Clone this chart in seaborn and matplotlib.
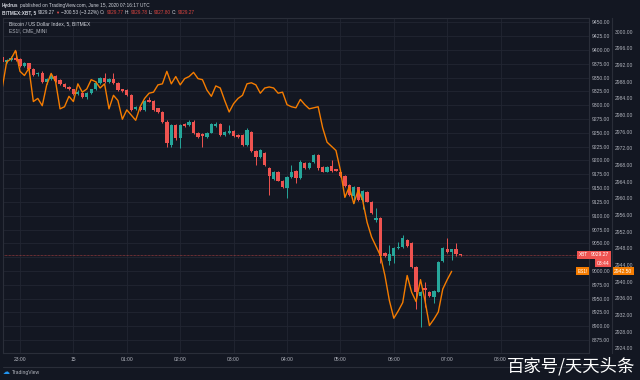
import numpy as np
import pandas as pd
import matplotlib
matplotlib.use("Agg")
import matplotlib.pyplot as plt
import matplotlib.dates as mdates
import seaborn as sns

# XBT/USD 5-minute bars, 22:40 -> 07:15 UTC
bar_open = [9387.2, 9378.2, 9380.9, 9385.4, 9382.7, 9370.9, 9375.5, 9365.5, 9355.6, 9358.8,
            9341.1, 9347.4, 9352.8, 9344.7, 9338.4, 9333.8, 9328.8, 9319.7, 9322.6, 9315.4,
            9322.6, 9328.8, 9340.7, 9348.7, 9341.1, 9347.4, 9340.2, 9328.4, 9327.5, 9318.4,
            9293.1, 9297.3, 9291.3, 9308.5, 9307.6, 9294.4, 9288.2, 9270.1, 9227.9, 9264.2,
            9240.1, 9266.0, 9264.2, 9270.1, 9249.1, 9247.9, 9241.9, 9250.2, 9262.9, 9265.4,
            9246.1, 9249.1, 9253.3, 9246.1, 9246.1, 9228.0, 9252.0, 9217.6, 9206.8, 9214.0,
            9186.9, 9166.4, 9179.1, 9162.8, 9150.7, 9170.6, 9180.9, 9167.7, 9194.8, 9187.2,
            9196.3, 9209.8, 9188.7, 9179.6, 9189.9, 9184.0, 9179.6, 9171.8, 9155.6, 9135.6,
            9151.4, 9128.4, 9143.4, 9125.3, 9092.2, 9095.8, 9031.9, 9018.5, 9027.0, 9041.0,
            9043.9, 9056.0, 9050.0, 9008.0, 8954.6, 8970.0, 8962.4, 8953.4, 8962.4, 9018.0,
            9039.2, 9034.8, 9039.2, 9029.77]
bar_high = [9390.8, 9382.7, 9389.0, 9398.1, 9385.4, 9377.3, 9376.4, 9367.3, 9360.1, 9361.0,
            9349.2, 9358.3, 9354.7, 9346.5, 9340.2, 9335.6, 9330.2, 9326.6, 9323.9, 9323.9,
            9330.2, 9342.9, 9351.0, 9358.8, 9349.2, 9358.8, 9342.0, 9330.2, 9329.3, 9320.3,
            9298.5, 9298.5, 9309.4, 9314.8, 9309.4, 9295.8, 9289.5, 9272.3, 9266.0, 9266.0,
            9266.0, 9267.8, 9272.3, 9272.3, 9250.6, 9249.7, 9250.6, 9266.9, 9270.1, 9266.9,
            9252.4, 9264.2, 9255.1, 9247.0, 9247.9, 9258.2, 9253.3, 9218.9, 9220.7, 9215.3,
            9188.1, 9180.0, 9180.0, 9164.6, 9171.8, 9191.8, 9182.7, 9200.8, 9196.3, 9196.3,
            9211.7, 9211.7, 9189.9, 9189.9, 9200.8, 9185.4, 9180.9, 9173.6, 9157.4, 9153.8,
            9152.8, 9146.5, 9144.7, 9126.6, 9113.9, 9098.2, 9033.4, 9047.0, 9043.3, 9052.9,
            9065.1, 9057.8, 9051.5, 9008.9, 8963.7, 8980.5, 8963.7, 8965.5, 9018.0, 9043.3,
            9059.1, 9040.6, 9050.6, 9029.78]
bar_low = [9375.5, 9376.4, 9380.0, 9379.1, 9369.1, 9369.1, 9363.7, 9352.8, 9353.7, 9339.3,
           9338.4, 9345.6, 9342.0, 9336.5, 9332.0, 9326.6, 9318.4, 9318.4, 9313.9, 9310.3,
           9320.3, 9326.6, 9338.4, 9339.3, 9340.2, 9338.4, 9325.7, 9323.9, 9316.6, 9289.5,
           9291.3, 9289.5, 9289.5, 9304.9, 9289.5, 9285.9, 9267.8, 9224.3, 9224.3, 9237.9,
           9223.1, 9260.5, 9262.3, 9247.0, 9241.5, 9224.9, 9240.6, 9248.8, 9261.4, 9244.2,
           9244.2, 9247.9, 9243.3, 9241.5, 9226.1, 9226.1, 9215.3, 9191.8, 9205.3, 9190.1,
           9137.4, 9164.6, 9161.9, 9150.7, 9131.5, 9169.1, 9159.2, 9166.4, 9185.4, 9185.4,
           9194.5, 9183.6, 9178.2, 9178.2, 9179.1, 9180.0, 9170.0, 9151.9, 9135.6, 9123.0,
           9126.6, 9112.1, 9123.9, 9103.1, 9088.6, 9014.4, 9025.2, 9010.8, 9014.4, 9039.7,
           9042.4, 9044.2, 9006.2, 8931.1, 8899.1, 8935.3, 8952.8, 8942.0, 8961.0, 9016.2,
           9031.6, 9019.8, 9027.9, 9027.80]
bar_close = [9378.2, 9380.9, 9385.4, 9380.9, 9370.9, 9375.5, 9365.5, 9354.7, 9358.8, 9341.1,
             9347.4, 9352.8, 9343.8, 9338.4, 9333.8, 9328.8, 9319.7, 9324.4, 9315.4, 9322.6,
             9328.8, 9340.7, 9348.7, 9341.1, 9347.4, 9340.2, 9327.5, 9325.7, 9318.4, 9291.3,
             9297.3, 9291.3, 9307.6, 9306.3, 9291.3, 9288.2, 9270.1, 9231.0, 9264.2, 9240.1,
             9264.2, 9262.9, 9270.1, 9249.1, 9243.0, 9244.2, 9249.1, 9265.4, 9265.4, 9246.1,
             9251.0, 9253.3, 9244.8, 9243.0, 9228.0, 9255.1, 9217.6, 9206.8, 9218.9, 9191.8,
             9172.4, 9178.5, 9163.3, 9152.5, 9170.6, 9179.1, 9167.7, 9196.3, 9187.2, 9194.8,
             9209.8, 9185.8, 9179.6, 9188.7, 9180.9, 9181.4, 9171.3, 9153.8, 9137.4, 9152.5,
             9128.4, 9145.2, 9125.3, 9104.3, 9095.8, 9027.0, 9027.0, 9030.7, 9042.1, 9043.9,
             9059.1, 9045.7, 9008.0, 8962.4, 8962.4, 8965.5, 8954.6, 8963.7, 9016.7, 9041.5,
             9033.4, 9039.2, 9029.8, 9029.27]

# ES1! (CME mini S&P) 5-minute closes, 22:40 -> 07:05
es_close = [2986.5, 2992.75, 2993.5, 2995.5, 2990.5, 2989.5, 2991.25, 2983.25, 2984.0, 2982.25,
            2987.25, 2990.0, 2988.0, 2981.5, 2982.0, 2984.5, 2983.25, 2987.5, 2985.5, 2986.25,
            2988.5, 2988.0, 2986.5, 2987.5, 2981.5, 2984.75, 2983.5, 2979.0, 2981.25, 2980.0,
            2978.75, 2982.0, 2984.0, 2985.25, 2985.5, 2987.25, 2987.5, 2990.5, 2987.5, 2989.25,
            2987.25, 2988.75, 2989.25, 2990.25, 2988.75, 2988.5, 2986.0, 2984.5, 2987.0, 2986.5,
            2983.5, 2980.75, 2982.75, 2984.0, 2984.75, 2987.5, 2987.75, 2987.25, 2985.25, 2986.5,
            2986.75, 2986.5, 2985.25, 2985.5, 2982.5, 2982.0, 2981.75, 2983.75, 2982.5, 2981.5,
            2981.75, 2982.0, 2977.0, 2973.5, 2972.5, 2971.5, 2966.75, 2960.25, 2962.75, 2958.75,
            2962.0, 2959.5, 2954.25, 2950.75, 2948.5, 2946.25, 2941.5, 2935.5, 2931.25, 2933.0,
            2935.0, 2941.5, 2937.5, 2935.25, 2940.5, 2935.5, 2929.5, 2931.0, 2932.75, 2938.25,
            2940.5, 2942.5]

hour_labels = ['23:00', '15', '01:00', '02:00', '03:00', '04:00', '05:00', '06:00', '07:00', '08:00']
btc_ticks = np.arange(8875, 9451, 25)
es_ticks = np.arange(2924, 3001, 4)

BG = '#131722'
GRID = '#222632'
TXT = '#b2b5be'
UP = '#26a69a'
DOWN = '#ef5350'
ES_COL = '#f57c00'

sns.set_theme(style='dark', rc={'axes.facecolor': BG, 'figure.facecolor': BG})
plt.rcParams['font.family'] = ['Liberation Sans', 'DejaVu Sans']

times = pd.date_range('2020-06-14 22:40', periods=len(bar_open), freq='5min')
df = pd.DataFrame({'time': mdates.date2num(times), 'open': bar_open, 'high': bar_high,
                   'low': bar_low, 'close': bar_close})
df['up'] = df['close'] >= df['open']
df['bottom'] = df[['open', 'close']].min(axis=1)
df['body'] = (df['close'] - df['open']).abs().clip(lower=1.3)
colors = np.where(df['up'], UP, DOWN)

es = pd.DataFrame({'time': df['time'][:len(es_close)], 'es': es_close})

fig = plt.figure(figsize=(6.4, 3.8), dpi=100)
ax = fig.add_axes([3 / 640, 27 / 380, 586 / 640, 335 / 380])
ax.set_facecolor(BG)

# candles
ax.vlines(df['time'], df['low'], df['high'], colors=colors, lw=0.7, zorder=2)
ax.bar(df['time'], df['body'], bottom=df['bottom'], width=3.7 / 1440, color=colors,
       linewidth=0, zorder=3)
ax.axhline(bar_close[-1], color=DOWN, lw=0.5, ls=(0, (1, 1)), alpha=0.8, zorder=1)

t0 = mdates.date2num(pd.Timestamp('2020-06-14 23:00'))
ax.set_xlim(t0 - 19.1 / 1440, t0 + 639.3 / 1440)
ax.set_ylim(8851.5, 9457.8)
hours = mdates.date2num(pd.date_range('2020-06-14 23:00', periods=len(hour_labels), freq='h'))
ax.set_xticks(hours)
ax.set_xticklabels(hour_labels)
ax.tick_params(axis='x', length=0, pad=3.2, labelsize=3.6, labelcolor=TXT)
ax.grid(True, color=GRID, lw=0.6)
for s in ax.spines.values():
    s.set_color('#2a2e39')
    s.set_linewidth(0.8)

# ES on its own scale
ax2 = ax.twinx()
sns.lineplot(data=es, x='time', y='es', ax=ax2, color=ES_COL, lw=1.0, zorder=4)
ax2.set_ylim(2922.9, 3003.3)
ax2.set_yticks(es_ticks)
ax2.set_yticklabels([f'{v:.2f}' for v in es_ticks])
ax2.set_ylabel('')
ax2.set_xlabel('')
ax2.grid(False)
ax2.spines['right'].set_position(('axes', 1 + 23 / 586))
ax2.spines['right'].set_color('#2a2e39')
ax2.spines['right'].set_linewidth(0.8)
for k in ['left', 'top', 'bottom']:
    ax2.spines[k].set_visible(False)
ax2.tick_params(axis='y', length=0, pad=2, labelsize=3.6, labelcolor=TXT)
ax.set_xlabel('')

# BTC scale sits in the first column on the right (twinx resets it to the left);
# the 9025 label is hidden behind the last-price tags
ax.set_yticks(btc_ticks)
ax.set_yticklabels(['' if v == 9025 else f'{v:.2f}' for v in btc_ticks])
ax.yaxis.tick_right()
ax.tick_params(axis='y', length=0, pad=2, labelsize=3.6, labelcolor=TXT,
               left=False, labelleft=False, right=False, labelright=True)

# last price tags
box = dict(boxstyle='square,pad=0.3', ec='none')
ax.text(0.998, bar_close[-1], 'XBT', transform=ax.get_yaxis_transform(), ha='right', va='center',
        fontsize=3.4, color='white', bbox={**box, 'fc': DOWN}, zorder=6)
ax.text(1.003, bar_close[-1], f'{bar_close[-1]:.2f}', transform=ax.get_yaxis_transform(), ha='left',
        va='center', fontsize=3.6, color='white', bbox={**box, 'fc': DOWN}, zorder=6, clip_on=False)
ax.text(1.013, 9013.5, '03:44', transform=ax.get_yaxis_transform(), ha='left', va='center',
        fontsize=3.6, color='white', bbox={**box, 'fc': DOWN}, zorder=6, clip_on=False)
ax2.text(0.998, es_close[-1], 'ES1!', transform=ax2.get_yaxis_transform(), ha='right', va='center',
         fontsize=3.4, color='white', bbox={**box, 'fc': ES_COL}, zorder=6)
ax2.text(1 + 25 / 586, es_close[-1], f'{es_close[-1]:.2f}', transform=ax2.get_yaxis_transform(),
         ha='left', va='center', fontsize=3.6, color='white', bbox={**box, 'fc': ES_COL},
         zorder=6, clip_on=False)

# legend lines inside the pane
ax.text(6 / 586, 1 - 6 / 335, 'Bitcoin / US Dollar Index, 5, BITMEX', transform=ax.transAxes,
        fontsize=3.6, color='#d1d4dc', va='center')
ax.text(6 / 586, 1 - 13 / 335, 'ES1!, CME_MINI', transform=ax.transAxes,
        fontsize=3.6, color=TXT, va='center')

renderer = fig.canvas.get_renderer()


def ftext(x, y, s, **kw):
    kw.setdefault('fontsize', 3.4)
    kw.setdefault('color', '#d1d4dc')
    return fig.text(x / 640, 1 - y / 380, s, va='center', ha='left', **kw)


def chain(x, y, parts, gap=1.2):
    # write text segments one after another on one line
    for s, kw in parts:
        t = ftext(x, y, s, **kw)
        x = t.get_window_extent(renderer).x1 + gap


# header
chain(2, 5, [('Hydrus', {'fontweight': 'bold'}),
             ('published on TradingView.com, June 15, 2020 07:16:17 UTC', {})])
red = {'color': '#d9443f'}
chain(2, 12.5, [('BITMEX:XBT, 5', {'fontweight': 'bold'}), ('9029.27', {}),
                ('▼', {'color': DOWN, 'fontsize': 3.0}), ('−300.53 (−3.22%)', {}),
                ('O:', {}), ('9029.77', red), ('H:', {}), ('9029.78', red),
                ('L:', {}), ('9027.80', red), ('C:', {}), ('9029.27', red)])

# footer
fig.add_artist(plt.Line2D([3 / 640, 612 / 640], [1 - 367 / 380, 1 - 367 / 380], color='#2a2e39', lw=0.8))
ftext(3, 372.5, '☁', color='#2196f3', fontsize=5, family=['DejaVu Sans'])
ftext(12, 372.5, 'TradingView', color=TXT, fontsize=3.6)
ftext(507, 366, '百家号/天天头条', color='white', fontsize=12.5,
      family=['Noto Sans CJK SC', 'DejaVu Sans'])

fig.savefig('out.png', dpi=100, facecolor=BG)
